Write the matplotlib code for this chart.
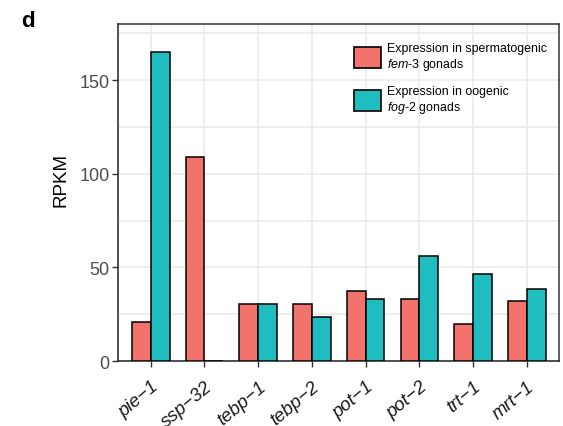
import numpy as np
import matplotlib
matplotlib.use("Agg")
import matplotlib.pyplot as plt
from matplotlib.patches import Patch

plt.rcParams['font.family'] = ['Liberation Sans', 'DejaVu Sans']
plt.rcParams['mathtext.fontset'] = 'custom'
plt.rcParams['mathtext.it'] = 'Liberation Sans:italic'
plt.rcParams['mathtext.rm'] = 'Liberation Sans'

genes = ['pie\u22121', 'ssp\u221232', 'tebp\u22121', 'tebp\u22122',
         'pot\u22121', 'pot\u22122', 'trt\u22121', 'mrt\u22121']
fem3 = [21, 108.7, 30.3, 30.3, 37.3, 33, 20, 32.1]
fog2 = [165, 0, 30.6, 23.5, 33, 56.1, 46.4, 38.7]

red = '#F1736C'
teal = '#1FBDC0'

fig = plt.figure(figsize=(5.63, 4.27), dpi=100)
ax = fig.add_axes([0.2096, 0.1522, 0.7833, 0.7893])

x = np.arange(len(genes))
w = 0.35
ax.bar(x - w / 2, fem3, w, color=red, edgecolor='black', linewidth=1.1, zorder=3)
ax.bar(x + w / 2, fog2, w, color=teal, edgecolor='black', linewidth=1.1, zorder=3)

ax.set_xlim(-0.61, 7.6)
ax.set_ylim(0, 180)
ax.set_yticks([0, 50, 100, 150])
ax.set_yticks([25, 75, 125, 175], minor=True)
ax.set_xticks(x)
ax.set_xticklabels(genes, rotation=40, ha='right', va='top', style='italic',
                   fontsize=13.5, color='#1a1a1a', rotation_mode='anchor')
ax.tick_params(axis='y', labelsize=13, labelcolor='#4D4D4D', color='#333333',
               length=4, width=1, pad=2)
ax.tick_params(axis='y', which='minor', length=0)
ax.tick_params(axis='x', color='#333333', length=4, width=1, pad=8)

ax.grid(True, which='both', color='#EBEBEB', linewidth=1.2, zorder=0)
ax.set_axisbelow(True)
for side in ['top', 'right']:
    ax.spines[side].set_color('#333333')
for side in ['left', 'bottom']:
    ax.spines[side].set_color('#222222')
for s in ax.spines.values():
    s.set_linewidth(1.1)

# y axis title sits a little above the panel centre
fig.text(61 / 563, 1 - 180 / 427, 'RPKM', fontsize=13.5, color='black',
         rotation=90, ha='center', va='center')

handles = [Patch(facecolor=red, edgecolor='black', linewidth=1.2),
           Patch(facecolor=teal, edgecolor='black', linewidth=1.2)]
labels = ['Expression in spermatogenic\n$\\mathit{fem}$-$\\mathit{3}$ gonads',
          'Expression in oogenic\n$\\mathit{fog}$-$\\mathit{2}$ gonads']
leg = ax.legend(handles, labels, loc='upper left', frameon=False, fontsize=8.9,
                handlelength=2.2, handleheight=2.2, handletextpad=0.5,
                labelspacing=1.0, borderpad=0, borderaxespad=0,
                bbox_to_anchor=(354 / 563, 1 - 43 / 427),
                bbox_transform=fig.transFigure)

fig.text(21 / 563, 1 - 27 / 427, 'd', fontsize=16, fontweight='bold')

fig.savefig('out.png', dpi=100)
